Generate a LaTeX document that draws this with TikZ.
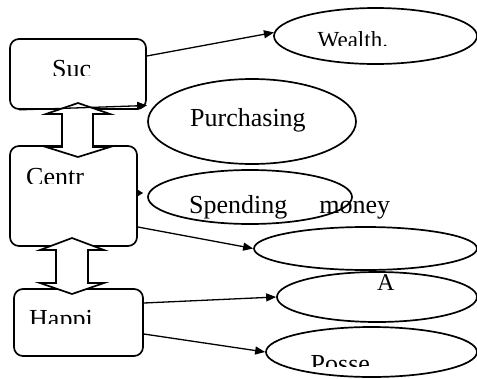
\documentclass[tikz,border=0pt]{standalone}
\usepackage{fontspec}
\setmainfont{Liberation Serif}
\usetikzlibrary{shapes.geometric,arrows.meta,calc}
\begin{document}
\begin{tikzpicture}[x=1pt,y=-1pt,
  box/.style={draw, line width=1.7pt, rounded corners=9pt, inner sep=0pt},
  oval/.style={draw, ellipse, line width=1.7pt, inner sep=0pt},
  txt/.style={inner sep=0pt, anchor=base west, font=\fontsize{26}{30}\selectfont},
  conn/.style={line width=1.3pt, -{Triangle[length=10pt,width=8pt]}},
  shortconn/.style={line width=1.3pt, -{Triangle[length=7pt,width=8pt]}},
  blockarrow/.style={draw, fill=white, line width=1.7pt, line join=miter}]
\useasboundingbox (0,0) rectangle (477,378);
% ellipses
\node[oval, minimum width=203pt, minimum height=56pt] (wealth) at (375.5,36) {};
\node[oval, minimum width=208pt, minimum height=85pt] (purch) at (252,121.5) {};
\node[oval, minimum width=204pt, minimum height=54pt] (spend) at (250,197) {};
\node[oval, minimum width=223pt, minimum height=43pt] (empty) at (365.5,248.5) {};
\node[oval, minimum width=200pt, minimum height=50pt] (aell) at (377,297) {};
\node[oval, minimum width=211pt, minimum height=50pt] (posse) at (371.5,352) {};
% boxes
\node[box, minimum width=136pt, minimum height=70pt] (suc) at (78,74) {};
\node[box, minimum width=127pt, minimum height=100pt] (centr) at (73.5,196) {};
\node[box, minimum width=129pt, minimum height=67pt] (happi) at (78.5,322.5) {};
% block double arrows
\draw[blockarrow] (78,103) -- (110,114) -- (93,114) -- (93,147) -- (110,147) -- (78,157)
  -- (46,147) -- (62,147) -- (62,114) -- (46,114) -- cycle;
\draw[blockarrow] (72,238) -- (104,250) -- (88,250) -- (88,283) -- (104,283) -- (72,294)
  -- (40,283) -- (56,283) -- (56,250) -- (40,250) -- cycle;
% connectors
\draw[conn] ([yshift=18pt]suc.east) -- (wealth.178);
\draw[conn] ([xshift=10pt]suc.south west) -- ([yshift=16pt]purch.west);
\draw[shortconn] ([yshift=3pt]centr.east) -- ([xshift=-4pt,yshift=4pt]spend.west);
\draw[conn] ([yshift=-31pt]centr.east) -- (empty.west);
\draw[conn] ([yshift=19.5pt]happi.east) -- (aell.west);
\draw[conn] ([yshift=-11.5pt]happi.east) -- (posse.west);
% texts
\begin{scope}
  \clip (0,0) rectangle (477,75);
  \node[txt] (suct) at (52,77) {Suc};
\end{scope}
\begin{scope}
  \clip (0,150) rectangle (140,183);
  \node[txt] (centrt) at (26,185.5) {Centr};
\end{scope}
\begin{scope}
  \clip (0,290) rectangle (145,323.5);
  \node[txt] (happit) at (29,327.5) {Happi};
\end{scope}
\begin{scope}
  \clip (280,10) rectangle (470,45.5);
  \node[txt, font=\fontsize{23}{27}\selectfont] (wealtht) at (317.5,47) {Wealth.};
\end{scope}
\node[txt] (purcht) at (190,126) {Purchasing};
\node[txt] (spendt) at (189,213) {Spending\hspace{32pt}money};
\node[txt, font=\fontsize{24}{28}\selectfont] (at) at (377,290) {A};
\begin{scope}
  \clip (270,330) rectangle (470,366);
  \node[txt] (posset) at (310.5,372.5) {Posse};
\end{scope}
\end{tikzpicture}
\end{document}
